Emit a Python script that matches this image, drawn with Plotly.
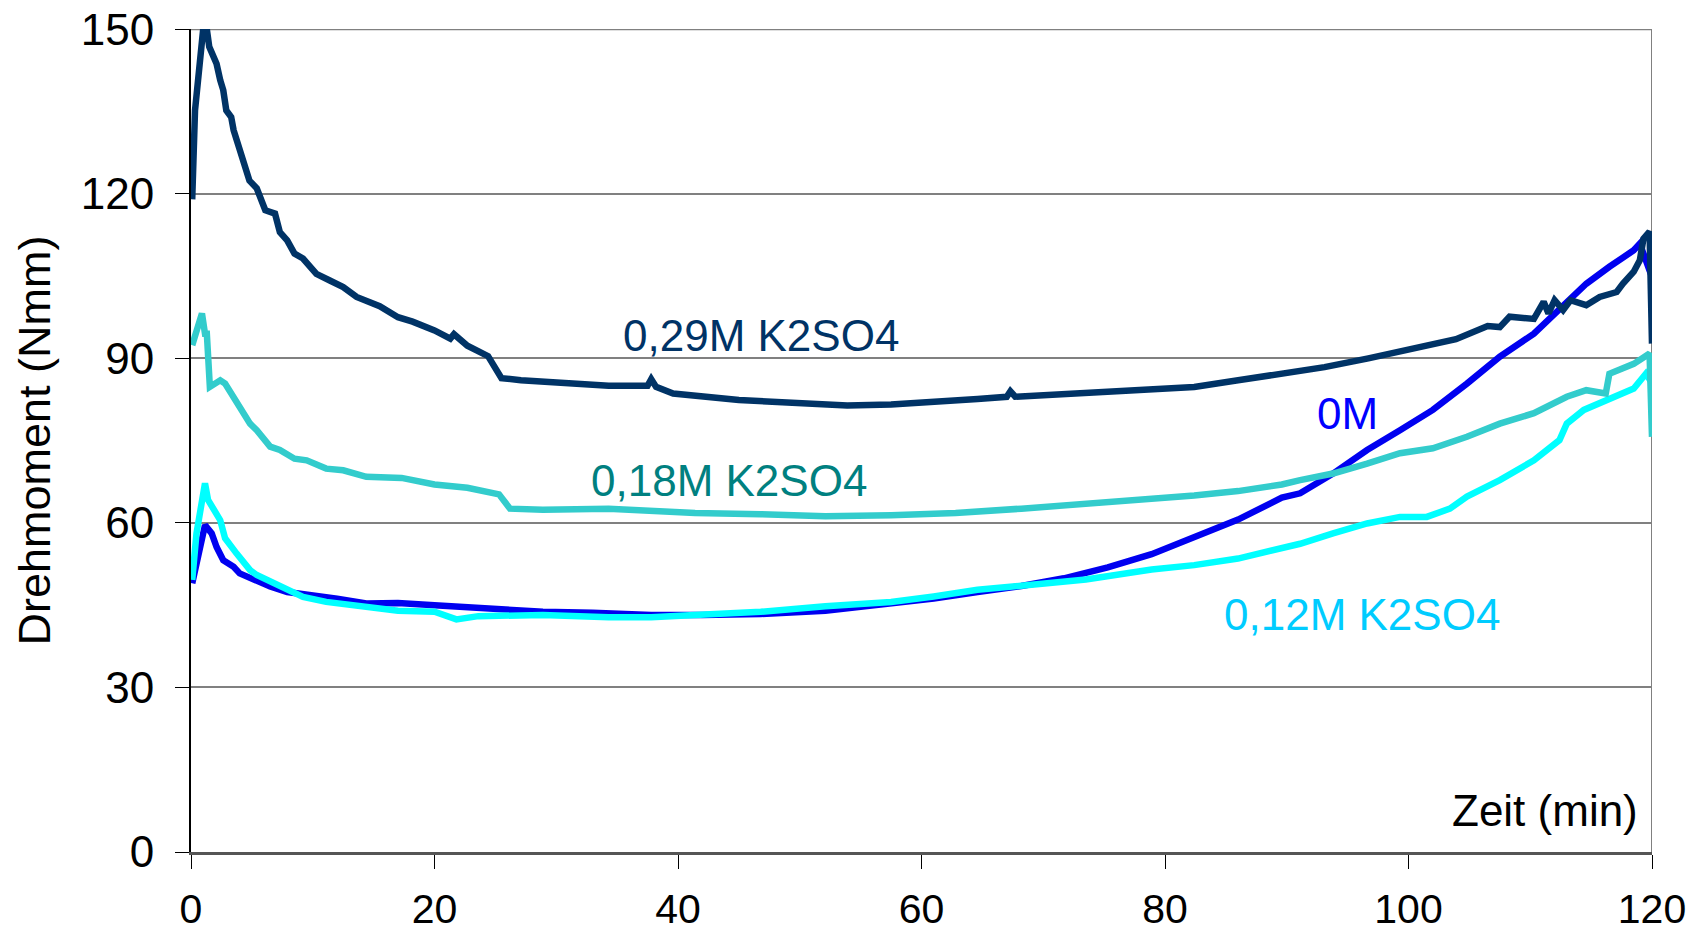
import plotly.graph_objects as go

# ---------------- data ----------------
T_029 = [0.1, 0.33, 1.0, 1.3, 1.5, 2.1, 2.4, 2.65, 2.9, 3.3, 3.5, 4.1, 4.8, 5.4, 6.1, 6.9, 7.3,
         7.9, 8.5, 9.2, 10.3, 11.4, 12.5, 13.6, 15.5, 17.0, 18.2, 20.0, 21.3, 21.6, 22.7, 24.4,
         25.5, 27.1, 30.7, 34.3, 37.5, 37.8, 38.2, 39.6, 45.0, 48.5, 53.9, 57.5, 61.0, 64.6,
         67.0, 67.3, 67.7, 73.5, 78.9, 82.4, 86.0, 89.6, 93.1, 96.7, 100.3, 103.9, 106.5, 107.5,
         108.3, 110.3, 111.1, 111.5, 112.0, 112.7, 113.3, 114.6, 115.7, 117.1, 117.6, 118.5,
         119.0, 119.3, 119.8, 120.0]
V_029 = [119.0, 135.2, 150.0, 150.0, 146.8, 143.7, 140.7, 138.9, 135.2, 134.0, 131.6, 127.3,
         122.4, 121.0, 117.0, 116.4, 113.0, 111.5, 109.1, 108.2, 105.4, 104.2, 103.0, 101.2,
         99.5, 97.5, 96.7, 95.1, 93.6, 94.4, 92.3, 90.4, 86.4, 86.0, 85.4, 85.0, 85.0, 86.2,
         84.8, 83.6, 82.4, 82.0, 81.4, 81.6, 82.0, 82.6, 83.0, 84.0, 83.0, 83.6, 84.4, 84.8,
         86.0, 87.2, 88.4, 90.0, 91.9, 93.5, 95.9, 95.7, 97.6, 97.2, 100.3, 98.2, 100.6, 98.8,
         100.6, 99.7, 101.2, 102.1, 103.6, 105.8, 107.9, 111.8, 113.1, 92.7]

T_0 = [0.1, 1.0, 1.15, 1.7, 2.1, 2.65, 3.5, 4.0, 5.1, 6.5, 7.9, 9.2, 10.6, 12.0, 14.4, 17.0,
       20.0, 24.4, 28.9, 33.0, 37.8, 42.0, 46.8, 52.1, 57.5, 61.0, 64.6, 68.2, 71.7, 75.3,
       78.9, 82.4, 86.0, 89.6, 91.1, 93.8, 96.6, 99.3, 102.0, 104.8, 107.5, 110.3, 112.4,
       114.6, 116.5, 118.5, 119.0, 120.0]
V_0 = [49.0, 58.1, 59.6, 58.1, 55.6, 53.2, 52.0, 50.8, 49.6, 48.4, 47.4, 47.1, 46.5, 46.2,
       45.3, 45.4, 45.0, 44.4, 43.8, 43.6, 43.2, 43.2, 43.4, 44.0, 45.2, 46.2, 47.4, 48.5,
       49.9, 51.9, 54.3, 57.5, 60.6, 64.6, 65.4, 69.0, 73.3, 76.9, 80.6, 85.4, 90.3, 94.5,
       98.8, 103.6, 106.7, 109.7, 110.9, 104.8]

T_012 = [0.1, 0.45, 1.15, 1.4, 2.4, 2.8, 3.75, 4.85, 5.4, 6.5, 7.3, 9.2, 11.1, 13.1, 14.7,
         17.0, 20.0, 21.8, 23.6, 28.9, 34.3, 37.8, 41.4, 46.8, 52.1, 57.5, 61.0, 64.6, 69.9,
         73.5, 78.9, 82.4, 86.0, 89.6, 91.1, 93.8, 96.6, 99.3, 101.5, 103.4, 104.8, 107.5,
         110.3, 112.4, 113.0, 114.4, 116.3, 118.5, 119.5, 120.0]
V_012 = [49.6, 58.1, 67.2, 64.2, 60.5, 57.2, 54.4, 51.4, 50.5, 49.3, 48.4, 46.5, 45.6, 45.0,
         44.4, 44.0, 43.8, 42.4, 43.0, 43.2, 42.8, 42.8, 43.2, 43.8, 44.8, 45.6, 46.6, 47.8,
         48.9, 49.7, 51.5, 52.3, 53.5, 55.5, 56.2, 58.1, 59.9, 61.1, 61.1, 62.6, 64.8, 67.8,
         71.4, 75.1, 78.1, 80.6, 82.4, 84.5, 87.2, 85.5]

T_018 = [0.1, 0.9, 1.15, 1.3, 1.55, 2.4, 2.8, 3.5, 4.0, 4.85, 5.4, 6.5, 7.3, 8.5, 9.5, 11.1,
         12.5, 14.4, 17.3, 20.0, 22.7, 25.3, 26.2, 28.9, 34.3, 37.8, 41.4, 46.8, 52.1, 57.5,
         62.8, 68.2, 73.5, 78.9, 82.4, 86.0, 89.6, 91.1, 93.8, 96.6, 99.3, 102.0, 104.8, 107.5,
         110.3, 113.0, 114.6, 116.2, 116.5, 118.5, 119.8, 120.0]
V_018 = [92.4, 98.2, 94.5, 94.5, 84.8, 86.0, 85.4, 83.0, 81.2, 78.1, 76.9, 73.9, 73.3, 71.7,
         71.4, 69.9, 69.6, 68.4, 68.2, 67.0, 66.4, 65.2, 62.6, 62.4, 62.6, 62.2, 61.8, 61.6,
         61.2, 61.4, 61.8, 62.6, 63.4, 64.2, 65.0, 65.8, 67.0, 67.8, 69.0, 70.8, 72.7, 73.6,
         75.7, 78.1, 80.0, 83.0, 84.2, 83.6, 87.2, 89.0, 90.9, 75.7]

X_TICKS = [0, 20, 40, 60, 80, 100, 120]
Y_TICKS = [0, 30, 60, 90, 120, 150]
X_RANGE = [0, 120]
Y_RANGE = [0, 150.05]

LABELS = ["0M", "0,12M K2SO4", "0,18M K2SO4", "0,29M K2SO4"]
LABEL_X = [95.0, 96.2, 44.2, 46.8]
LABEL_Y = [79.9, 43.3, 67.8, 94.2]

LINE_COLORS = ["#0000F0", "#00FFFF", "#33CCCC", "#003366"]
TEXT_COLORS = ["#0000FF", "#00CCFF", "#008080", "#003366"]

FONT = "Liberation Sans, Arial, sans-serif"

# ---------------- figure ----------------
fig = go.Figure()
series = [(T_0, V_0), (T_012, V_012), (T_018, V_018), (T_029, V_029)]
for (t, v), name, col in zip(series, LABELS, LINE_COLORS):
    fig.add_trace(go.Scatter(x=t, y=v, mode="lines", name=name,
                             line=dict(color=col, width=6.5), showlegend=False))

for txt, lx, ly, col in zip(LABELS, LABEL_X, LABEL_Y, TEXT_COLORS):
    fig.add_annotation(x=lx, y=ly, xref="x", yref="y", text=txt, showarrow=False,
                       xanchor="center", yanchor="middle",
                       font=dict(family=FONT, size=44, color=col))

fig.add_annotation(x=119.0, y=7.5, xref="x", yref="y", text="Zeit (min)", showarrow=False,
                   xanchor="right", yanchor="middle",
                   font=dict(family=FONT, size=44, color="black"))

# right frame line at the end of the time axis
fig.add_shape(type="line", xref="x", yref="paper", x0=X_RANGE[1], x1=X_RANGE[1], y0=0, y1=1,
              line=dict(color="#808080", width=2), layer="below")
# top grid line at the last y tick
fig.add_shape(type="line", xref="paper", yref="y", x0=0, x1=1, y0=Y_TICKS[-1], y1=Y_TICKS[-1],
              line=dict(color="#808080", width=2), layer="below")

fig.update_layout(
    width=1695, height=930,
    margin=dict(l=183, r=51, t=21, b=86, autoexpand=False),
    plot_bgcolor="white", paper_bgcolor="white",
    font=dict(family=FONT, color="black"),
    xaxis=dict(range=X_RANGE, tickvals=X_TICKS, ticks="outside", ticklen=14,
               tickcolor="black", tickwidth=1, showgrid=False, zeroline=False,
               showline=True, linecolor="#555555", linewidth=3,
               tickfont=dict(family=FONT, size=41, color="black"),
               ticklabelstandoff=5, ticklabeloverflow="allow"),
    yaxis=dict(range=Y_RANGE, tickvals=Y_TICKS, ticks="outside", ticklen=14,
               tickcolor="black", tickwidth=1, showgrid=True, gridcolor="#808080",
               gridwidth=1.5, zeroline=False, showline=True, linecolor="black",
               linewidth=2, tickfont=dict(family=FONT, size=44, color="black"),
               ticklabelstandoff=12, ticklabeloverflow="allow",
               title=dict(text="Drehmoment (Nmm)", standoff=16,
                          font=dict(family=FONT, size=45, color="black"))),
)

fig.write_html("out.html")
